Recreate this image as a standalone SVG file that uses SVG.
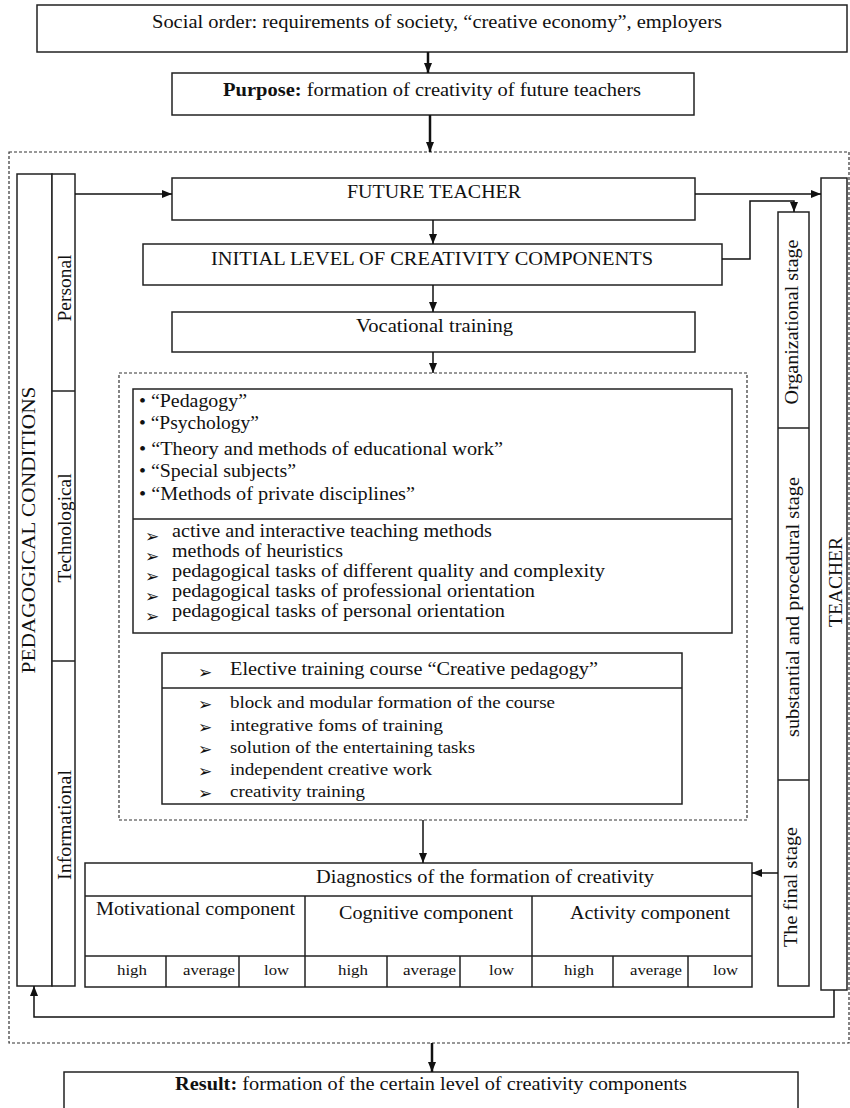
<svg xmlns="http://www.w3.org/2000/svg" width="850" height="1108" viewBox="0 0 850 1108">
<defs>
<marker id="ah" markerUnits="userSpaceOnUse" markerWidth="10" markerHeight="8" refX="10" refY="4" orient="auto"><path d="M0,0 L10,4 L0,8 z" fill="#111"/></marker>
<style>
.box{fill:#fff;stroke:#222;stroke-width:1.5}
.ln{fill:none;stroke:#222;stroke-width:1.5}
.dash{fill:none;stroke:#333;stroke-width:1.2;stroke-dasharray:3,2}
.con{fill:none;stroke:#111;stroke-width:1.5;marker-end:url(#ah)}
.thick{stroke-width:2.5}
.t{font-family:"Liberation Serif","Times New Roman",serif;font-size:18px;fill:#111}
.s{font-size:15px}
.c{font-family:"Liberation Serif",serif;font-size:16px;fill:#111}
.sym{font-family:"DejaVu Sans",sans-serif;font-size:17px;fill:#111}
</style>
</defs>

<rect class="dash" x="9" y="152" width="840" height="891"/>
<rect class="dash" x="119" y="373" width="628" height="447"/>

<g id="social"><rect class="box" x="37" y="5" width="810" height="47"/>
<text class="t" x="152" y="28" textLength="570" lengthAdjust="spacingAndGlyphs">Social order: requirements of society, “creative economy”,  employers</text></g>

<g id="purpose"><rect class="box" x="172" y="73" width="522" height="42"/>
<text class="t" x="223" y="96" textLength="418" lengthAdjust="spacingAndGlyphs"><tspan font-weight="bold">Purpose:</tspan> formation of creativity of future teachers</text></g>

<g id="conditions"><rect class="box" x="17" y="174" width="35" height="812"/>
<text class="t" transform="translate(35,530) rotate(-90)" text-anchor="middle" textLength="287" lengthAdjust="spacingAndGlyphs">PEDAGOGICAL   CONDITIONS</text></g>

<g id="condition-types"><rect class="box" x="52" y="174" width="23" height="812"/>
<line class="ln" x1="52" y1="391" x2="75" y2="391"/>
<line class="ln" x1="52" y1="661" x2="75" y2="661"/>
<text class="t" transform="translate(71,288) rotate(-90)" text-anchor="middle" textLength="67" lengthAdjust="spacingAndGlyphs">Personal</text>
<text class="t" transform="translate(71,528) rotate(-90)" text-anchor="middle" textLength="109" lengthAdjust="spacingAndGlyphs">Technological</text>
<text class="t" transform="translate(71,825) rotate(-90)" text-anchor="middle" textLength="110" lengthAdjust="spacingAndGlyphs">Informational</text></g>

<g id="future-teacher"><rect class="box" x="172" y="178" width="523" height="42"/>
<text class="t" x="347" y="198" textLength="174" lengthAdjust="spacingAndGlyphs">FUTURE TEACHER</text></g>

<g id="initial-level"><rect class="box" x="143" y="244" width="579" height="41"/>
<text class="t" x="211" y="265" textLength="442" lengthAdjust="spacingAndGlyphs">INITIAL LEVEL OF CREATIVITY  COMPONENTS</text></g>

<g id="vocational"><rect class="box" x="172" y="312" width="523" height="40"/>
<text class="t" x="356" y="332" textLength="157" lengthAdjust="spacingAndGlyphs">Vocational  training</text></g>

<g id="subjects"><rect class="box" x="133" y="389" width="599" height="244"/>
<line class="ln" x1="133" y1="519" x2="732" y2="519"/>
<text class="t" x="139" y="407" textLength="108" lengthAdjust="spacingAndGlyphs">• “Pedagogy”</text>
<text class="t" x="139" y="429" textLength="120" lengthAdjust="spacingAndGlyphs">• “Psychology”</text>
<text class="t" x="139" y="455" textLength="364" lengthAdjust="spacingAndGlyphs">• “Theory  and  methods  of  educational  work”</text>
<text class="t" x="139" y="477" textLength="157" lengthAdjust="spacingAndGlyphs">• “Special  subjects”</text>
<text class="t" x="139" y="500" textLength="276" lengthAdjust="spacingAndGlyphs">• “Methods  of private  disciplines”</text>
<text class="sym" x="145" y="542">➢</text><text class="t" x="172" y="537" textLength="320" lengthAdjust="spacingAndGlyphs">active and interactive teaching methods</text>
<text class="sym" x="145" y="562">➢</text><text class="t" x="172" y="557" textLength="171" lengthAdjust="spacingAndGlyphs">methods of heuristics</text>
<text class="sym" x="145" y="582">➢</text><text class="t" x="172" y="577" textLength="433" lengthAdjust="spacingAndGlyphs">pedagogical tasks of different quality and complexity</text>
<text class="sym" x="145" y="602">➢</text><text class="t" x="172" y="597" textLength="363" lengthAdjust="spacingAndGlyphs">pedagogical tasks of professional orientation</text>
<text class="sym" x="145" y="622">➢</text><text class="t" x="172" y="617" textLength="333" lengthAdjust="spacingAndGlyphs">pedagogical tasks of personal orientation</text></g>

<g id="elective"><rect class="box" x="162" y="653" width="520" height="151"/>
<line class="ln" x1="162" y1="688" x2="682" y2="688"/>
<text class="sym" x="198" y="678">➢</text><text class="t" x="230" y="675" textLength="368" lengthAdjust="spacingAndGlyphs">Elective training course “Creative pedagogy”</text>
<text class="sym" x="198" y="710">➢</text><text class="c" x="230" y="708" textLength="325" lengthAdjust="spacingAndGlyphs">block and modular formation of the course</text>
<text class="sym" x="198" y="733">➢</text><text class="c" x="230" y="731" textLength="213" lengthAdjust="spacingAndGlyphs">integrative foms of training</text>
<text class="sym" x="198" y="755">➢</text><text class="c" x="230" y="753" textLength="245" lengthAdjust="spacingAndGlyphs">solution of the entertaining tasks</text>
<text class="sym" x="198" y="777">➢</text><text class="c" x="230" y="775" textLength="202" lengthAdjust="spacingAndGlyphs">independent creative work</text>
<text class="sym" x="198" y="799">➢</text><text class="c" x="230" y="797" textLength="135" lengthAdjust="spacingAndGlyphs">creativity training</text></g>

<g id="diagnostics"><rect class="box" x="85" y="863" width="667" height="124"/>
<line class="ln" x1="85" y1="896" x2="752" y2="896"/>
<line class="ln" x1="85" y1="956" x2="752" y2="956"/>
<line class="ln" x1="305" y1="896" x2="305" y2="987"/>
<line class="ln" x1="532" y1="896" x2="532" y2="987"/>
<line class="ln" x1="166" y1="956" x2="166" y2="987"/>
<line class="ln" x1="239" y1="956" x2="239" y2="987"/>
<line class="ln" x1="387" y1="956" x2="387" y2="987"/>
<line class="ln" x1="460" y1="956" x2="460" y2="987"/>
<line class="ln" x1="613" y1="956" x2="613" y2="987"/>
<line class="ln" x1="688" y1="956" x2="688" y2="987"/>
<text class="t" x="316" y="883" textLength="338" lengthAdjust="spacingAndGlyphs">Diagnostics of the formation of creativity</text>
<text class="t" x="96" y="915" textLength="199" lengthAdjust="spacingAndGlyphs">Motivational  component</text>
<text class="t" x="339" y="919" textLength="174" lengthAdjust="spacingAndGlyphs">Cognitive  component</text>
<text class="t" x="570" y="919" textLength="160" lengthAdjust="spacingAndGlyphs">Activity component</text>
<text class="t s" x="117" y="975" textLength="30" lengthAdjust="spacingAndGlyphs">high</text>
<text class="t s" x="183" y="975" textLength="52" lengthAdjust="spacingAndGlyphs">average</text>
<text class="t s" x="264" y="975" textLength="25" lengthAdjust="spacingAndGlyphs">low</text>
<text class="t s" x="338" y="975" textLength="30" lengthAdjust="spacingAndGlyphs">high</text>
<text class="t s" x="403" y="975" textLength="53" lengthAdjust="spacingAndGlyphs">average</text>
<text class="t s" x="489" y="975" textLength="25" lengthAdjust="spacingAndGlyphs">low</text>
<text class="t s" x="564" y="975" textLength="30" lengthAdjust="spacingAndGlyphs">high</text>
<text class="t s" x="630" y="975" textLength="52" lengthAdjust="spacingAndGlyphs">average</text>
<text class="t s" x="713" y="975" textLength="25" lengthAdjust="spacingAndGlyphs">low</text></g>

<g id="stages"><rect class="box" x="778" y="212" width="31" height="774"/>
<line class="ln" x1="778" y1="428" x2="809" y2="428"/>
<line class="ln" x1="778" y1="780" x2="809" y2="780"/>
<text class="t" font-size="17" transform="translate(798,322) rotate(-90)" text-anchor="middle" textLength="165" lengthAdjust="spacingAndGlyphs">Organizational  stage</text>
<text class="t" font-size="17" transform="translate(799,607) rotate(-90)" text-anchor="middle" textLength="260" lengthAdjust="spacingAndGlyphs">substantial  and  procedural  stage</text>
<text class="t" font-size="17" transform="translate(797,887) rotate(-90)" text-anchor="middle" textLength="120" lengthAdjust="spacingAndGlyphs">The  final  stage</text></g>

<g id="teacher"><rect class="box" x="821" y="178" width="26" height="812"/>
<text class="t" transform="translate(842,582) rotate(-90)" text-anchor="middle" textLength="90" lengthAdjust="spacingAndGlyphs">TEACHER</text></g>

<g id="result"><rect class="box" x="64" y="1072" width="734" height="50"/>
<text class="t" x="175" y="1090" textLength="512" lengthAdjust="spacingAndGlyphs"><tspan font-weight="bold">Result:</tspan> formation of the certain level of creativity components</text></g>

<g id="connectors">
<path class="con thick" d="M428,52 V73"/>
<path class="con thick" d="M430,115 V152"/>
<path class="con" d="M75,194 H172"/>
<path class="con" d="M695,194 H821"/>
<path class="con" d="M433,220 V244"/>
<path class="con" d="M722,259 H750 V201 H794 V212"/>
<path class="con" d="M433,285 V312"/>
<path class="con" d="M433,352 V373"/>
<path class="con" d="M423,820 V863"/>
<path class="con" d="M778,873 H752"/>
<path class="con" d="M834,990 V1017 H34 V986"/>
<path class="con thick" d="M432,1043 V1072"/>
</g>
</svg>
